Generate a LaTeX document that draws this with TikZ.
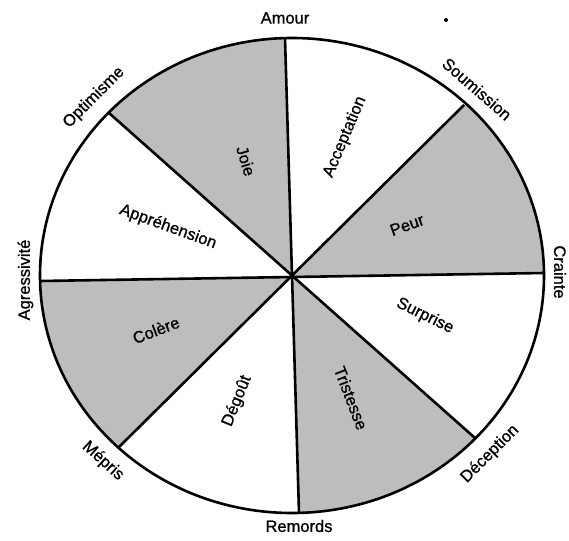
\documentclass[tikz,border=0pt]{standalone}
\usepackage{fontspec}
\setmainfont{Liberation Sans}
\newfontfamily\lblfont{Liberation Sans}[FakeBold=0.9]
\usetikzlibrary{calc}
\begin{document}
\begin{tikzpicture}[x=1pt,y=-1pt,
  rim/.style={line width=2.6pt},
  spoke/.style={line width=2.6pt},
  shade/.style={fill=black!26},
  lbl/.style={font=\lblfont\fontsize{16.5}{18}\selectfont, inner sep=0pt}]
\useasboundingbox (0,0) rectangle (569,540);
% named points
\coordinate (O) at (292,276);
\coordinate (T) at (285,38);
\coordinate (NE) at (464,105);
\coordinate (R) at (544,273);
\coordinate (SE) at (475,438);
\coordinate (B) at (299,513);
\coordinate (SW) at (118,448);
\coordinate (L) at (40,281);
\coordinate (NW) at (109,113);
% shaded sectors
\begin{scope}
  \clip (292,275.5) ellipse [x radius=252, y radius=237.5];
  \fill[shade] (O) -- ($(O)!1.4!(NW)$) -- ($(O)!1.4!(T)$) -- cycle;
  \fill[shade] (O) -- ($(O)!1.4!(NE)$) -- ($(O)!1.4!(R)$) -- cycle;
  \fill[shade] (O) -- ($(O)!1.4!(B)$) -- ($(O)!1.4!(SE)$) -- cycle;
  \fill[shade] (O) -- ($(O)!1.4!(L)$) -- ($(O)!1.4!(SW)$) -- cycle;
\end{scope}
% spokes
\draw[spoke] (T) -- (B);
\draw[spoke] (NE) -- (SW);
\draw[spoke] (R) -- (L);
\draw[spoke] (SE) -- (NW);
% rim
\draw[rim] (292,275.5) ellipse [x radius=252, y radius=237.5];
% inner labels
\node[lbl, rotate=-73] (joie) at (246,161) {Joie};
\node[lbl, rotate=67] (acc) at (345,137) {Acceptation};
\node[lbl, rotate=20] (peur) at (407,225) {Peur};
\node[lbl, rotate=-26] (surp) at (425,316) {Surprise};
\node[lbl, rotate=-69] (trist) at (351,398) {Tristesse};
\node[lbl, rotate=68] (deg) at (237,401) {Dégoût};
\node[lbl, rotate=21] (col) at (156,330) {Colère};
\node[lbl, rotate=-20] (appr) at (168,227) {Appréhension};
% outer labels
\node[lbl] (amour) at (285,18) {Amour};
\node[lbl, rotate=-41] (soum) at (477,89) {Soumission};
\node[lbl, rotate=-90] (crainte) at (560,272) {Crainte};
\node[lbl, rotate=45] (decep) at (490,454) {Déception};
\node[lbl] (remords) at (299,526) {Remords};
\node[lbl, rotate=-42] (mepris) at (103,461) {Mépris};
\node[lbl, rotate=90] (agress) at (25.5,280) {Agressivité};
\node[lbl, rotate=45] (optim) at (94,97.6) {Optimisme};
% stray dot
\fill (446,20) circle [radius=2];
\end{tikzpicture}
\end{document}
